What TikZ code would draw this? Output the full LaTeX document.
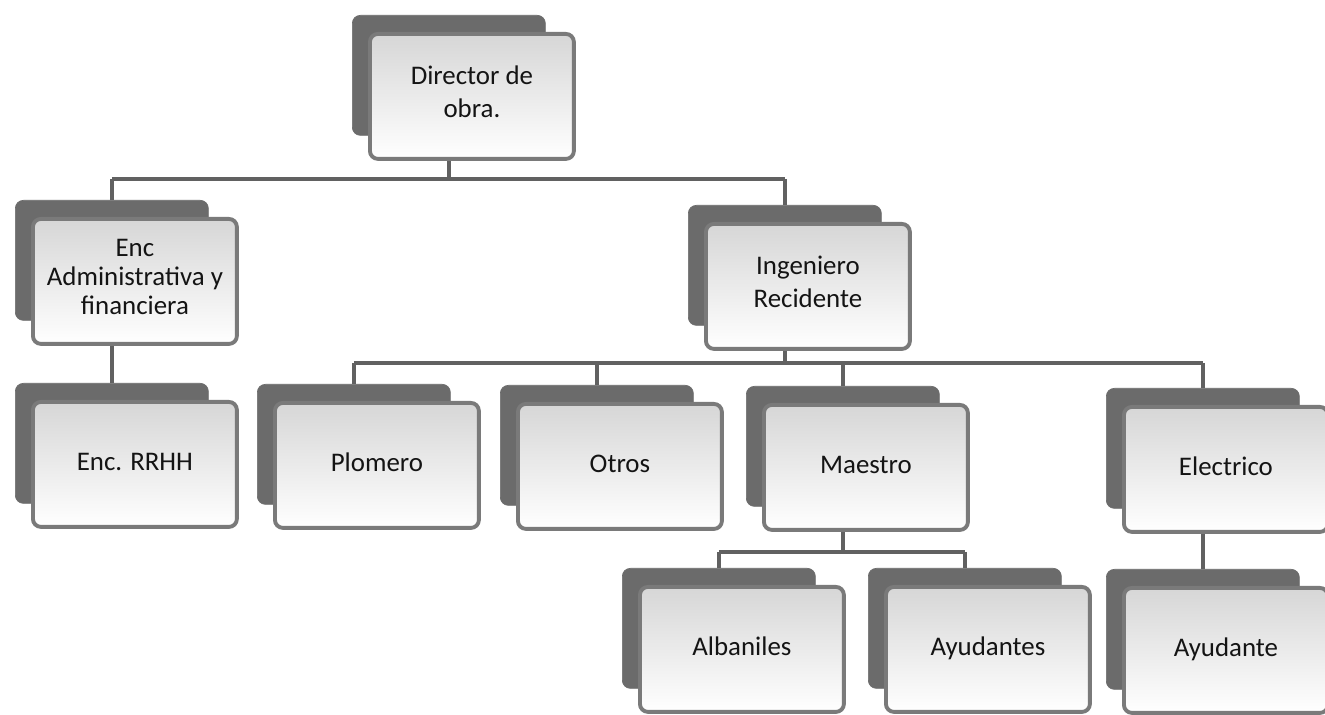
\documentclass[tikz,border=0pt]{standalone}
\usepackage{fontspec}
\setmainfont{Carlito}
\usepackage{tikz}

\tikzset{
  backcard/.style={rectangle, rounded corners=0.16cm, fill=black!58, draw=black!58,
    minimum width=3.86cm, minimum height=2.4cm, anchor=north west, inner sep=0pt},
  frontcard/.style={rectangle, rounded corners=0.16cm, draw=black!52, line width=2.2pt,
    top color=black!16, bottom color=white, minimum width=4.08cm, minimum height=2.5cm,
    anchor=north west, align=center, text=black!92, inner sep=2pt,
    font=\fontsize{15.3}{18.5}\selectfont,
    execute at begin node=\strut, execute at end node=\strut},
  conn/.style={draw=black!62, line width=2.6pt}
}

\begin{document}
\begin{tikzpicture}[x=0.02cm, y=-0.02cm]
\useasboundingbox (0,0) rectangle (1325,715);

% primer nivel
\node[backcard] (dirB) at (352,15) {};
\node[frontcard] (dir) at (368,32) {Director de\\obra.};

% segundo nivel
\node[backcard] (admB) at (15,200) {};
\node[frontcard] (adm) at (31,217) {Enc\\[-2pt]Administrativa y\\[-2pt]financiera};
\node[backcard] (ingB) at (688,205) {};
\node[frontcard] (ing) at (704,222) {Ingeniero\\Recidente};

% tercer nivel
\node[backcard] (rrhhB) at (15,383) {};
\node[frontcard] (rrhh) at (31,400) {Enc. RRHH};
\node[backcard] (ploB) at (257,384) {};
\node[frontcard] (plo) at (273,401) {Plomero};
\node[backcard] (otrB) at (500,385) {};
\node[frontcard] (otr) at (516,402) {Otros};
\node[backcard] (maeB) at (746,386) {};
\node[frontcard] (mae) at (762,403) {Maestro};
\node[backcard] (eleB) at (1106,388) {};
\node[frontcard] (ele) at (1122,405) {Electrico};

% cuarto nivel
\node[backcard] (albB) at (622,568) {};
\node[frontcard] (alb) at (638,585) {Albaniles};
\node[backcard] (ayusB) at (868,568) {};
\node[frontcard] (ayus) at (884,585) {Ayudantes};
\node[backcard] (ayuB) at (1106,569) {};
\node[frontcard] (ayu) at (1122,586) {Ayudante};

% lineas
\coordinate (bus1) at (0,179);
\coordinate (bus2) at (0,363);
\coordinate (bus3) at (0,552);

\draw[conn] (dirB |- dir.south) -- (dirB |- bus1);
\draw[conn] (admB |- bus1) -- (ingB |- bus1);
\draw[conn] (admB |- bus1) -- (admB.north);
\draw[conn] (ingB |- bus1) -- (ingB.north);

\draw[conn] (admB |- adm.south) -- (rrhhB.north);

\draw[conn] (ingB |- ing.south) -- (ingB |- bus2);
\draw[conn] (ploB |- bus2) -- (eleB |- bus2);
\draw[conn] (ploB |- bus2) -- (ploB.north);
\draw[conn] (otrB |- bus2) -- (otrB.north);
\draw[conn] (maeB |- bus2) -- (maeB.north);
\draw[conn] (eleB |- bus2) -- (eleB.north);

\draw[conn] (maeB |- mae.south) -- (maeB |- bus3);
\draw[conn] (albB |- bus3) -- (ayusB |- bus3);
\draw[conn] (albB |- bus3) -- (albB.north);
\draw[conn] (ayusB |- bus3) -- (ayusB.north);

\draw[conn] (eleB |- ele.south) -- (ayuB.north);
\end{tikzpicture}
\end{document}
